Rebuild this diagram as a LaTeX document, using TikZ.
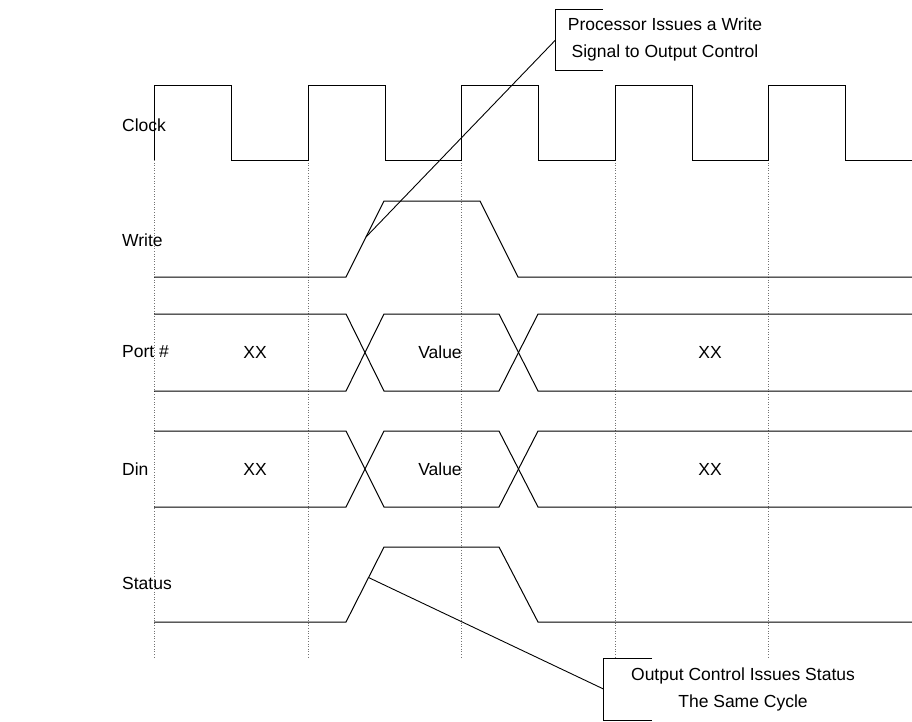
\documentclass[tikz,border=0pt]{standalone}
\usepackage{fontspec}
\setmainfont{Liberation Sans}
\usepackage{tikz}
\usetikzlibrary{positioning}
\tikzset{
  wave/.style={draw=black, line width=1pt, line join=miter},
  grid/.style={draw=black!55, line width=0.6pt, dotted},
  sig/.style={anchor=west, inner sep=0pt, font=\fontsize{17.5}{27}\selectfont},
  val/.style={inner sep=0pt, font=\fontsize{17.5}{27}\selectfont},
  note/.style={align=center, inner sep=0pt, font=\fontsize{17.5}{27}\selectfont},
  bracket/.style={draw=black, line width=0.9pt},
  leader/.style={draw=black, line width=0.9pt}
}

\begin{document}
\begin{tikzpicture}[x=1pt, y=-1pt]
\useasboundingbox (0,0) rectangle (912,721);

% cycle markers
\foreach \x in {154,308,461,615,768}
  \draw[grid] (\x,160) -- (\x,658);

% signal names
\node[sig] (lclock) at (122,125) {Clock};
\node[sig] (lwrite) at (122,240) {Write};
\node[sig] (lport) at (122,352) {Port \#};
\node[sig] (ldin) at (122,469) {Din};
\node[sig] (lstatus) at (122,583) {Status};

% clock
\draw[wave] (154,160) foreach \x in {154,308,461,615,768} {
  -- (\x,160) -- (\x,85) -- (\x+77,85) -- (\x+77,160) } -- (912,160);

% write strobe
\draw[wave] (154,277) -- (346,277) -- (384,201) -- (480,201) -- (518,277) -- (912,277);
\coordinate (wtap) at (366,237);

% address and data buses
\foreach \t/\b/\m/\nm in {314/391/352/port, 431/507/469/din} {
  \draw[wave] (154,\t) -- (346,\t) -- (384,\b) -- (499,\b) -- (538,\t) -- (912,\t);
  \draw[wave] (154,\b) -- (346,\b) -- (384,\t) -- (499,\t) -- (538,\b) -- (912,\b);
  \node[val] (\nm a) at (255,\m) {XX};
  \node[val] (\nm v) at (440,\m) {Value};
  \node[val] (\nm b) at (710,\m) {XX};
}

% status
\draw[wave] (154,622) -- (346,622) -- (384,547) -- (499,547) -- (538,622) -- (912,622);
\coordinate (stap) at (368.5,577.5);

% callouts
\draw[bracket] (603,9) -- (555.5,9) -- (555.5,70) -- (603,70);
\coordinate (c1) at (555.5,40);
\node[note] (n1) at (665,39) {Processor Issues a Write\\Signal to Output Control};
\draw[leader] (c1) -- (wtap);

\draw[bracket] (652,658) -- (603.5,658) -- (603.5,720) -- (652,720);
\coordinate (c2) at (603.5,689);
\node[note] (n2) at (743,689) {Output Control Issues Status\\The Same Cycle};
\draw[leader] (c2) -- (stap);
\end{tikzpicture}
\end{document}
